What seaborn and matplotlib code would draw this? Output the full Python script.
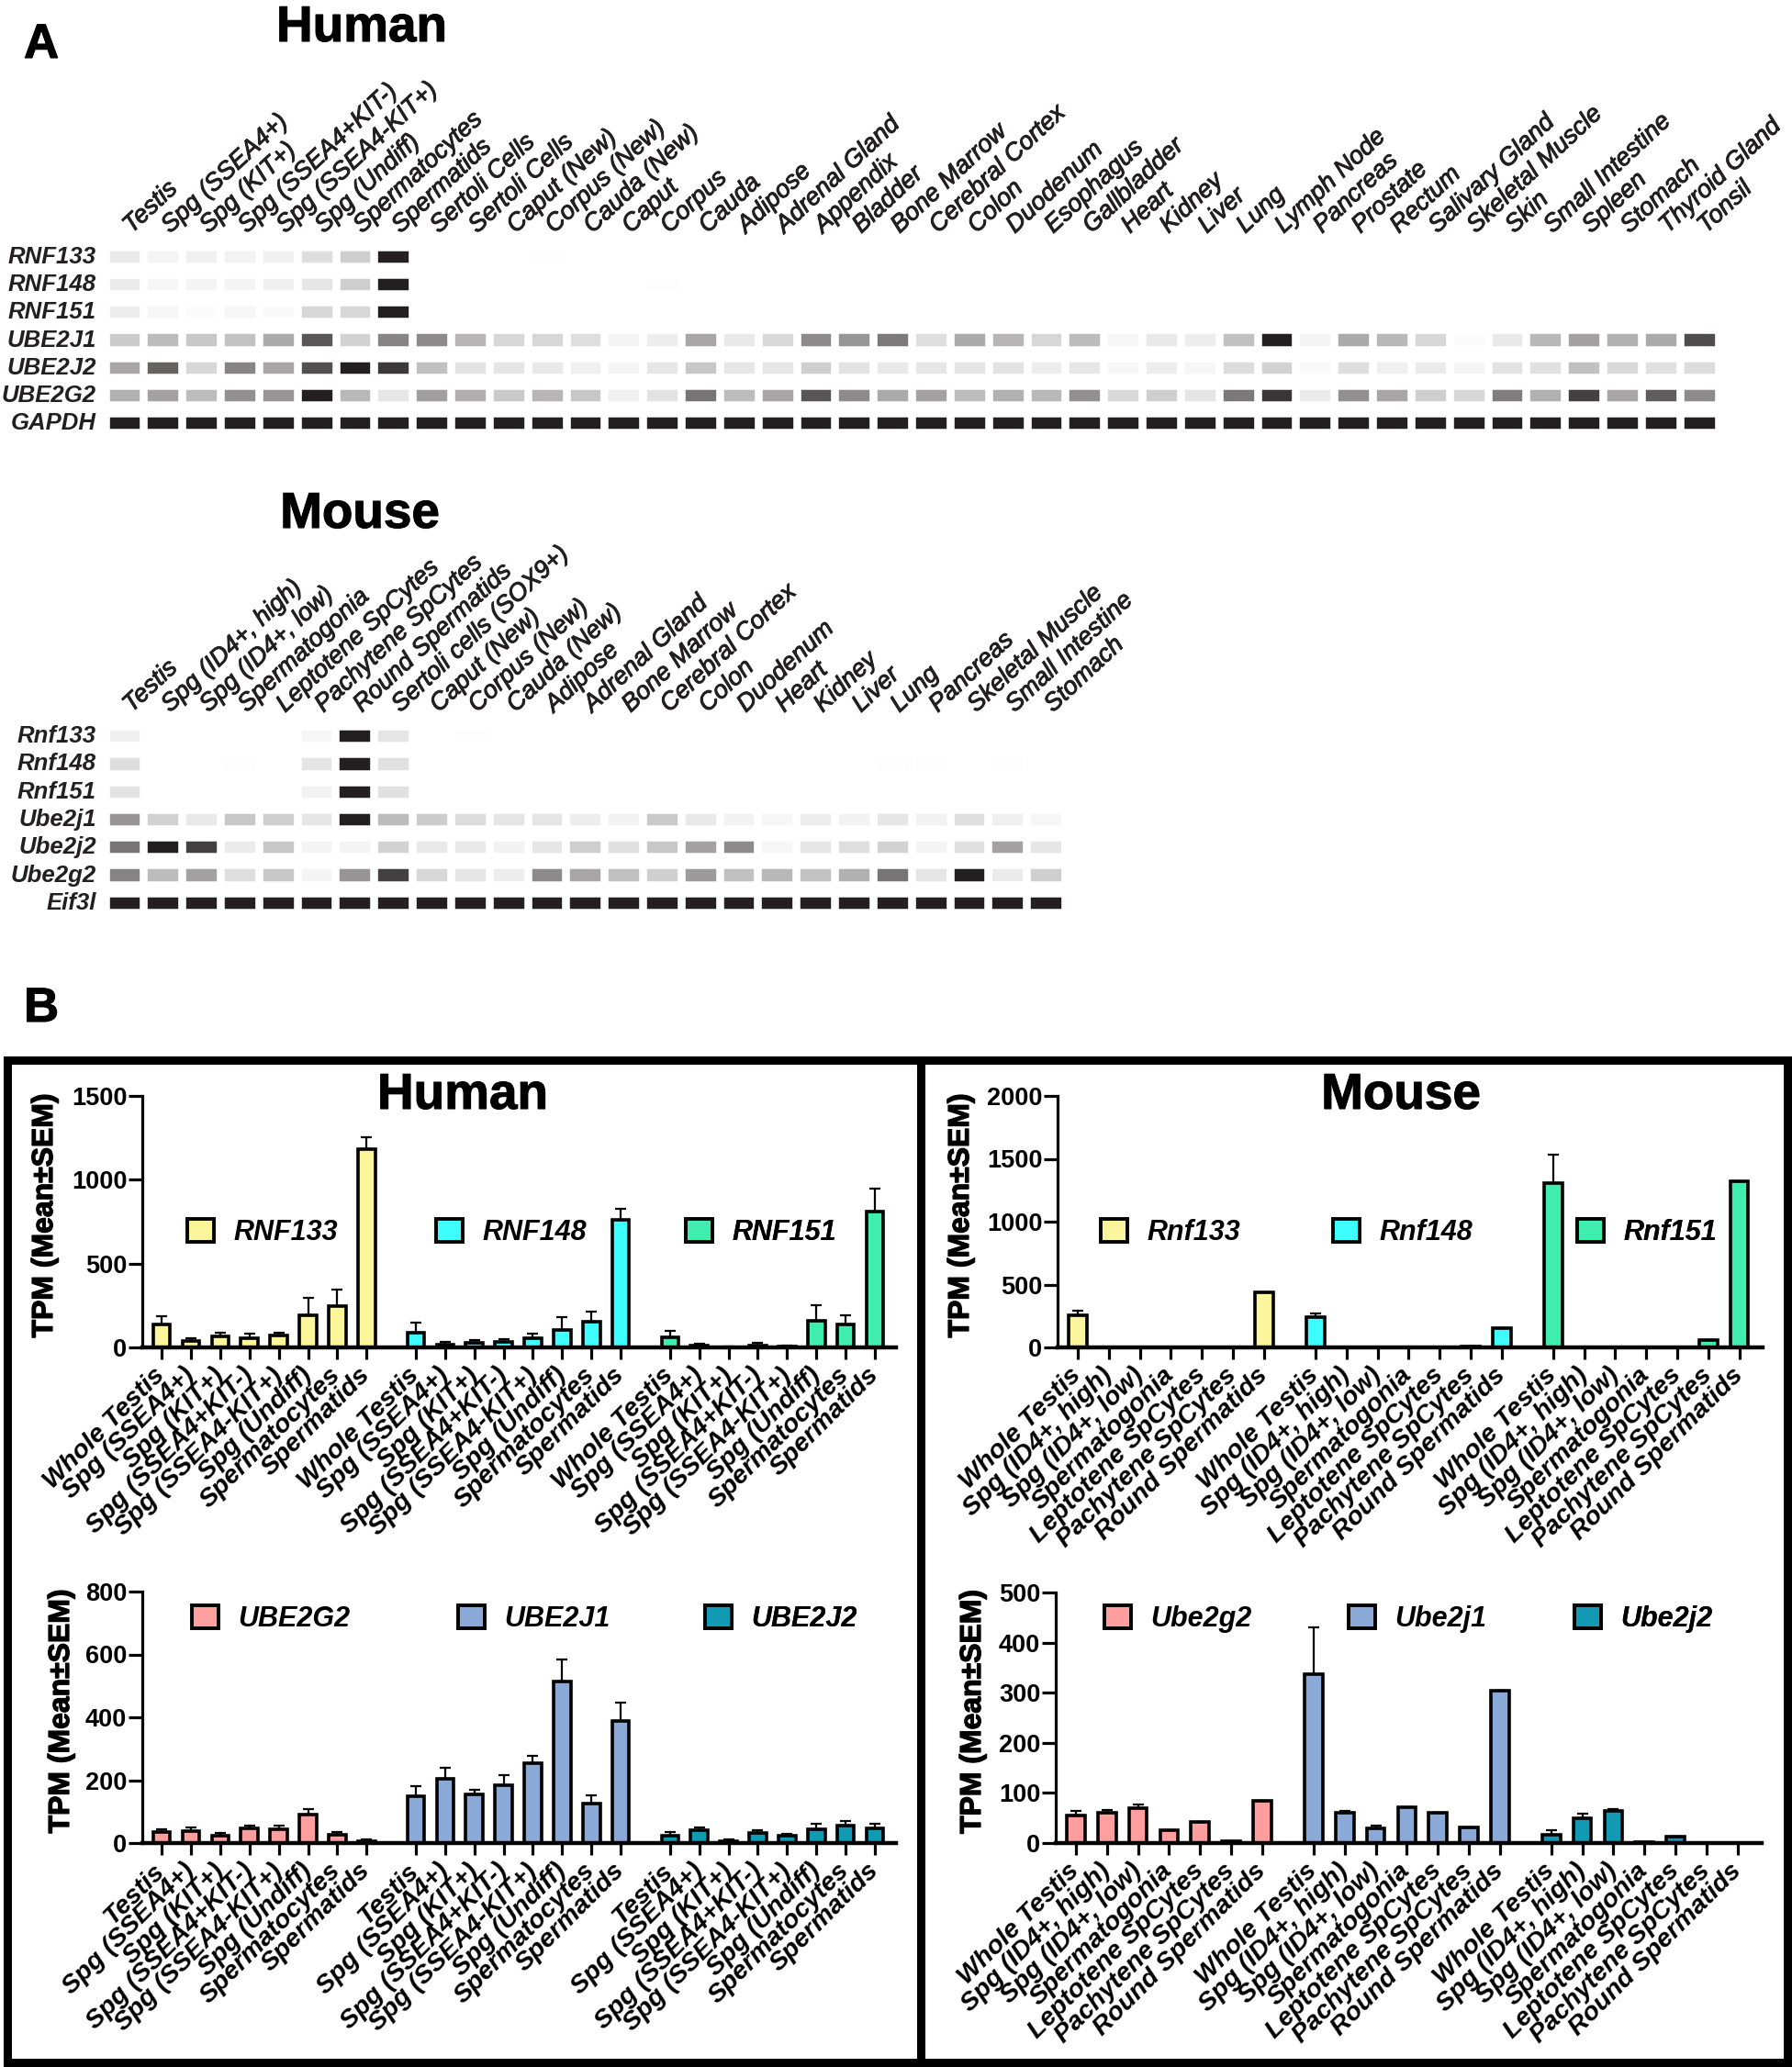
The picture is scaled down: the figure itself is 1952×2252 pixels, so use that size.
import pandas as pd
import seaborn as sns
import numpy as np
import matplotlib.pyplot as plt
import matplotlib.patheffects as pe
from matplotlib.patches import Patch, Rectangle
from matplotlib.transforms import ScaledTranslation

W, H = 1952, 2252

# ---- panel A, human heat map ----
human_tissues = ["Testis", "Spg (SSEA4+)", "Spg (KIT+)", "Spg (SSEA4+KIT-)", "Spg (SSEA4-KIT+)", "Spg (Undiff)",
                 "Spermatocytes", "Spermatids", "Sertoli Cells", "Sertoli Cells", "Caput (New)", "Corpus (New)",
                 "Cauda (New)", "Caput", "Corpus", "Cauda", "Adipose", "Adrenal Gland", "Appendix", "Bladder",
                 "Bone Marrow", "Cerebral Cortex", "Colon", "Duodenum", "Esophagus", "Gallbladder", "Heart",
                 "Kidney", "Liver", "Lung", "Lymph Node", "Pancreas", "Prostate", "Rectum", "Salivary Gland",
                 "Skeletal Muscle", "Skin", "Small Intestine", "Spleen", "Stomach", "Thyroid Gland", "Tonsil"]
human_genes = ["RNF133", "RNF148", "RNF151", "UBE2J1", "UBE2J2", "UBE2G2", "GAPDH"]
h_rnf133 = [.10, .05, .07, .06, .07, .15, .22, 1, 0, 0, 0, .01] + [0] * 30
h_rnf148 = [.09, .04, .05, .05, .07, .11, .22, 1, 0, 0, 0, 0, 0, 0, .01] + [0] * 27
h_rnf151 = [.08, .04, .02, .04, .03, .18, .18, 1] + [0] * 34
h_ube2j1 = [.23, .30, .25, .27, .38, .75, .20, .55, .52, .33, .18, .18, .15, .05, .08, .40, .10, .17, .52, .47, .60,
            .15, .38, .33, .18, .30, .04, .10, .08, .28, 1, .05, .38, .32, .18, .02, .10, .32, .42, .35, .38, .80]
h_ube2j2 = [.40, .70, .18, .55, .40, .78, 1, .88, .28, .13, .12, .10, .07, .05, .11, .25, .11, .11, .22, .13, .10,
            .11, .12, .13, .08, .11, .04, .08, .04, .16, .20, .03, .15, .07, .09, .05, .13, .14, .28, .17, .14, .16]
h_ube2g2 = [.35, .42, .30, .50, .48, 1, .32, .11, .43, .36, .24, .33, .25, .07, .13, .62, .30, .40, .75, .52, .38,
            .42, .30, .35, .32, .50, .17, .22, .12, .60, .90, .09, .50, .40, .22, .18, .58, .35, .85, .40, .72, .52]
h_gapdh = [1] * 42

# ---- panel A, mouse heat map ----
mouse_tissues = ["Testis", "Spg (ID4+, high)", "Spg (ID4+, low)", "Spermatogonia", "Leptotene SpCytes",
                 "Pachytene SpCytes", "Round Spermatids", "Sertoli cells (SOX9+)", "Caput (New)", "Corpus (New)",
                 "Cauda (New)", "Adipose", "Adrenal Gland", "Bone Marrow", "Cerebral Cortex", "Colon", "Duodenum",
                 "Heart", "Kidney", "Liver", "Lung", "Pancreas", "Skeletal Muscle", "Small Intestine", "Stomach"]
mouse_genes = ["Rnf133", "Rnf148", "Rnf151", "Ube2j1", "Ube2j2", "Ube2g2", "Eif3l"]
m_rnf133 = [.07, 0, 0, 0, 0, .04, 1, .12, 0, .01] + [0] * 15
m_rnf148 = [.15, 0, 0, .01, 0, .12, 1, .14] + [0] * 12 + [.01, .01, 0, .01, 0]
m_rnf151 = [.13, 0, 0, 0, 0, .06, 1, .14] + [0] * 17
m_ube2j1 = [.48, .20, .10, .25, .22, .11, 1, .30, .23, .16, .12, .12, .08, .06, .24, .10, .06, .04, .08, .06, .11,
            .06, .15, .07, .04]
m_ube2j2 = [.62, 1, .85, .09, .25, .05, .05, .20, .10, .10, .06, .11, .22, .14, .25, .42, .52, .04, .11, .15, .20,
            .05, .14, .42, .11]
m_ube2g2 = [.55, .30, .42, .15, .25, .05, .48, .85, .18, .11, .08, .52, .40, .28, .22, .45, .28, .32, .27, .35, .62,
            .12, 1, .09, .22]
m_eif3l = [1] * 25

# ---- panel B, cell types ----
human_cells = ["Whole Testis", "Spg (SSEA4+)", "Spg (KIT+)", "Spg (SSEA4+KIT-)", "Spg (SSEA4-KIT+)", "Spg (Undiff)",
               "Spermatocytes", "Spermatids"]
human_cells2 = ["Testis"] + human_cells[1:]
mouse_cells = ["Whole Testis", "Spg (ID4+, high)", "Spg (ID4+, low)", "Spermatogonia", "Leptotene SpCytes",
               "Pachytene SpCytes", "Round Spermatids"]

# top left
rnf133_h = [135, 37, 66, 57, 72, 192, 246, 1182]
rnf133_h_sem = [52, 18, 22, 23, 16, 101, 98, 74]
rnf148_h = [86, 17, 27, 33, 57, 102, 152, 760]
rnf148_h_sem = [60, 14, 16, 16, 27, 78, 61, 66]
rnf151_h = [60, 12, 2, 12, 4, 160, 135, 812]
rnf151_h_sem = [38, 12, 2, 13, 8, 92, 56, 133]
# top right
rnf133_m = [256, 0, 0, 0, 0, 0, 438]
rnf133_m_sem = [36, 0, 0, 0, 0, 0, 0]
rnf148_m = [238, 0, 0, 0, 0, 6, 152]
rnf148_m_sem = [33, 0, 0, 0, 0, 0, 0]
rnf151_m = [1303, 0, 0, 0, 0, 61, 1319]
rnf151_m_sem = [233, 0, 0, 0, 0, 0, 0]
# bottom left
ube2g2_h = [34, 39, 24, 46, 45, 90, 25, 5]
ube2g2_h_sem = [10, 11, 7, 10, 11, 18, 11, 7]
ube2j1_h = [149, 205, 156, 185, 253, 515, 126, 389]
ube2j1_h_sem = [31, 35, 13, 31, 23, 70, 26, 59]
ube2j2_h = [22, 41, 6, 32, 23, 44, 55, 47]
ube2j2_h_sem = [14, 10, 6, 9, 7, 18, 15, 14]
# bottom right
ube2g2_m = [55, 61, 70, 26, 43, 4, 85]
ube2g2_m_sem = [10, 5, 7, 0, 0, 0, 0]
ube2j1_m = [337, 60, 30, 72, 61, 32, 304]
ube2j1_m_sem = [93, 5, 5, 0, 0, 0, 0]
ube2j2_m = [17, 50, 64, 2, 12, 0, 0]
ube2j2_m_sem = [9, 9, 4, 0, 0, 0, 0]

yellow, cyan, green = "#FBF59B", "#3DFDFF", "#3FEEAE"
pink, blue, teal = "#FF9E9E", "#8AA9D6", "#1299B4"

sns.set_style("ticks")
plt.rcParams['font.family'] = ['Liberation Sans', 'DejaVu Sans']
plt.rcParams['text.color'] = 'black'
plt.rcParams['axes.labelcolor'] = 'black'
plt.rcParams['axes.edgecolor'] = 'black'
plt.rcParams['xtick.color'] = 'black'
plt.rcParams['ytick.color'] = 'black'

fig = plt.figure(figsize=(W / 100, H / 100), dpi=100)


def add_ax(left, top, right, bottom):
    return fig.add_axes([left / W, 1 - bottom / H, (right - left) / W, (bottom - top) / H])


def fig_text(x, y, s, **kw):
    t = fig.text(x / W, 1 - y / H, s, **kw)
    t.set_path_effects([pe.withStroke(linewidth=0.8, foreground="black")])


def draw_heat(box, rows, genes, tissues):
    ax = add_ax(*box)
    table = pd.DataFrame(rows, index=genes, columns=tissues)
    cmap = sns.blend_palette(["white", "#231F20"], as_cmap=True)
    sns.heatmap(table, ax=ax, cmap=cmap, vmin=0, vmax=1, cbar=False)
    # cells are wider than tall, so the gaps are painted over in white
    ax.vlines(np.arange(len(tissues) + 1), 0, len(genes), color="white", lw=6.2)
    ax.hlines(np.arange(len(genes) + 1), 0, len(tissues), color="white", lw=12.6)
    ax.xaxis.tick_top()
    ax.tick_params(axis="both", length=0)
    ax.tick_params(axis="x", pad=11)
    ax.tick_params(axis="y", pad=7)
    ax.set_xlabel("")
    ax.set_ylabel("")
    plt.setp(ax.get_xticklabels(), rotation=43, ha="left", va="center", rotation_mode="anchor",
             style="italic", fontsize=19.5, color="#231F20",
             path_effects=[pe.withStroke(linewidth=0.7, foreground="#231F20")])
    plt.setp(ax.get_yticklabels(), rotation=0, style="italic", weight="bold", fontsize=18.5, color="#231F20")
    # nudge the slanted labels a little to the right
    for lab in ax.get_xticklabels():
        lab.set_transform(lab.get_transform() + ScaledTranslation(3 / 100, 0, fig.dpi_scale_trans))
    for s in ax.spines.values():
        s.set_visible(False)


def draw_bars(box, first, pitch, gap, groups, cells, yticks, ylab_x, legend_xs, legend_y):
    left, top, right, bottom = box
    ax = add_ax(*box)
    n = len(cells)
    frames = []
    for g, (name, color, means, sems) in enumerate(groups):
        frames.append(pd.DataFrame({"pos": np.arange(n) + g * (n - 1 + gap), "gene": name,
                                    "tpm": means, "sem": sems}))
    data = pd.concat(frames, ignore_index=True)
    palette = {g[0]: g[1] for g in groups}
    sns.barplot(data=data, x="pos", y="tpm", hue="gene", palette=palette, native_scale=True, dodge=False,
                width=0.58, edgecolor="black", linewidth=2.6, errorbar=None, legend=False, saturation=1, ax=ax)
    ax.errorbar(data["pos"], data["tpm"], yerr=[np.zeros(len(data)), data["sem"]], fmt="none", ecolor="black",
                elinewidth=1.6, capsize=4, capthick=1.6)
    ax.set_xlim((left - first) / pitch, (right - first) / pitch)
    ax.set_ylim(yticks[0], yticks[-1])
    ax.set_yticks(yticks)
    ax.set_xticks(data["pos"])
    ax.set_xticklabels(cells * len(groups))
    sns.despine(ax=ax)
    ax.spines["left"].set_linewidth(2.3)
    ax.spines["bottom"].set_linewidth(3.2)
    ax.tick_params(axis="y", length=11, width=2.3, pad=1, labelsize=19.5)
    ax.tick_params(axis="x", length=9, width=2.3, pad=10)
    plt.setp(ax.get_yticklabels(), weight="bold")
    plt.setp(ax.get_xticklabels(), rotation=45, ha="right", va="center", rotation_mode="anchor",
             style="italic", weight="bold", fontsize=20.5)
    ax.set_xlabel("")
    ax.set_ylabel("TPM (Mean±SEM)", weight="bold", fontsize=23,
                  path_effects=[pe.withStroke(linewidth=0.9, foreground="black")])
    # the label's right side sits on this x, so the centre of the letters needs the extra 15 px
    ax.yaxis.set_label_coords((ylab_x + 15 - left) / (right - left), 0.525)
    for (name, color, means, sems), x in zip(groups, legend_xs):
        leg = ax.legend([Patch(facecolor=color, edgecolor="black", linewidth=2.8)], [name],
                        loc="center left", bbox_to_anchor=(x / W, 1 - legend_y / H), bbox_transform=fig.transFigure,
                        frameon=False, borderpad=0, borderaxespad=0, handlelength=0.95, handleheight=0.9,
                        handletextpad=0.7, prop={"style": "italic", "weight": "bold", "size": 22})
        ax.add_artist(leg)


draw_heat((114.6, 265, 1871.5, 476), [h_rnf133, h_rnf148, h_rnf151, h_ube2j1, h_ube2j2, h_ube2g2, h_gapdh],
          human_genes, human_tissues)
draw_heat((114.6, 787, 1160, 999), [m_rnf133, m_rnf148, m_rnf151, m_ube2j1, m_ube2j2, m_ube2g2, m_eif3l],
          mouse_genes, mouse_tissues)

draw_bars((155, 1194, 976, 1468), 176, 31.9, 1.68,
          [("RNF133", yellow, rnf133_h, rnf133_h_sem), ("RNF148", cyan, rnf148_h, rnf148_h_sem),
           ("RNF151", green, rnf151_h, rnf151_h_sem)],
          human_cells, [0, 500, 1000, 1500], 49, [204, 475, 747], 1343)
draw_bars((1152, 1194, 1920, 1468), 1174, 33.8, 1.66,
          [("Rnf133", yellow, rnf133_m, rnf133_m_sem), ("Rnf148", cyan, rnf148_m, rnf148_m_sem),
           ("Rnf151", green, rnf151_m, rnf151_m_sem)],
          mouse_cells, [0, 500, 1000, 1500, 2000], 1047, [1199, 1452, 1718], 1343)
draw_bars((155, 1734, 976, 2008), 176, 31.9, 1.68,
          [("UBE2G2", pink, ube2g2_h, ube2g2_h_sem), ("UBE2J1", blue, ube2j1_h, ube2j1_h_sem),
           ("UBE2J2", teal, ube2j2_h, ube2j2_h_sem)],
          human_cells2, [0, 200, 400, 600, 800], 67, [209, 499, 768], 1764)
draw_bars((1150, 1735, 1919, 2008), 1172, 33.8, 1.66,
          [("Ube2g2", pink, ube2g2_m, ube2g2_m_sem), ("Ube2j1", blue, ube2j1_m, ube2j1_m_sem),
           ("Ube2j2", teal, ube2j2_m, ube2j2_m_sem)],
          mouse_cells, [0, 100, 200, 300, 400, 500], 1060, [1203, 1469, 1715], 1764)

# frames round the two halves of panel B
for x0, x1 in [(8, 1003), (1003, 1947)]:
    fig.add_artist(Rectangle((x0 / W, 1 - 2247 / H), (x1 - x0) / W, (2247 - 1155) / H, transform=fig.transFigure,
                             fill=False, edgecolor="black", linewidth=6.5))

fig_text(26, 63, "A", fontsize=38, weight="bold")
fig_text(26, 1113, "B", fontsize=38, weight="bold")
fig_text(394, 45, "Human", fontsize=39.5, weight="bold", ha="center")
fig_text(392, 575, "Mouse", fontsize=39.5, weight="bold", ha="center")
fig_text(504, 1208, "Human", fontsize=39.5, weight="bold", ha="center")
fig_text(1526, 1208, "Mouse", fontsize=39.5, weight="bold", ha="center")

plt.savefig("out.png", dpi=100)
plt.close()
